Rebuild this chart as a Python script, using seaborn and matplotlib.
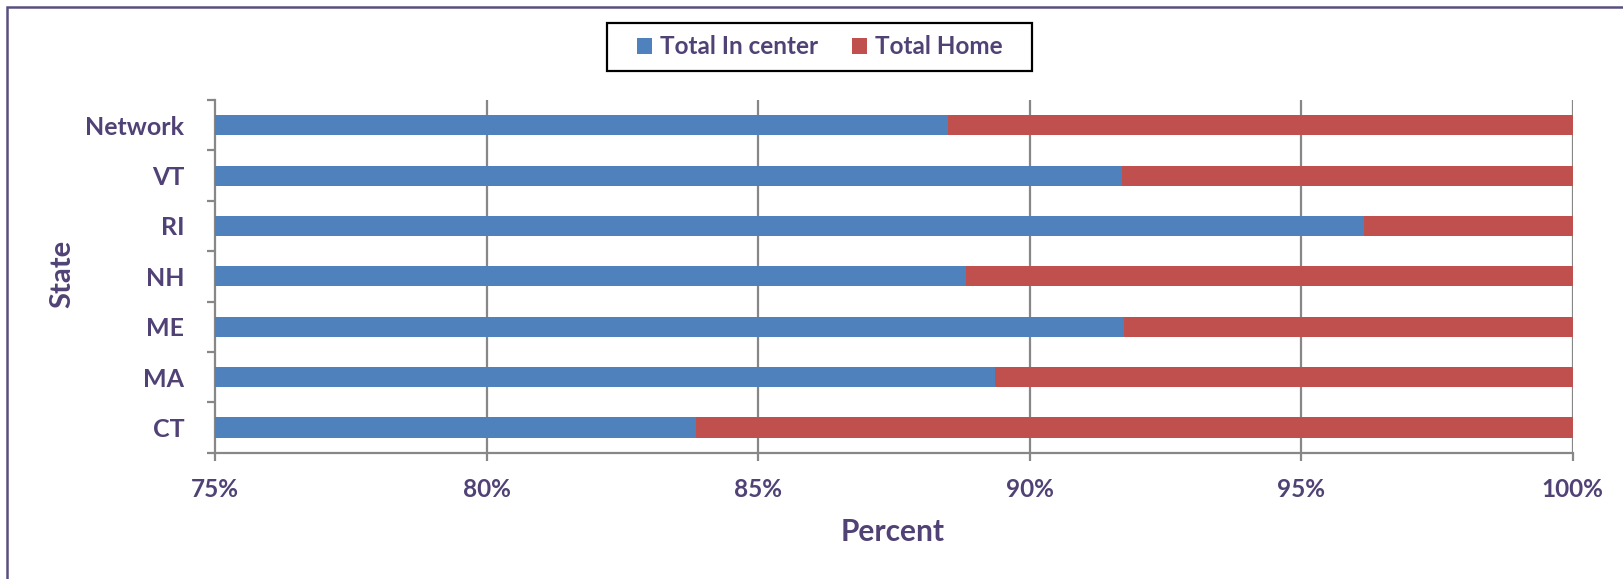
import matplotlib
matplotlib.use("Agg")
import matplotlib.pyplot as plt
import seaborn as sns
import pandas as pd
from matplotlib.patches import Rectangle, Patch
from matplotlib.ticker import FixedLocator

states = ["Network", "VT", "RI", "NH", "ME", "MA", "CT"]
in_center = [88.5, 91.7, 96.15, 88.82, 91.74, 89.37, 83.85]
home = [11.5, 8.3, 3.85, 11.18, 8.26, 10.63, 16.15]
xticks = [75, 80, 85, 90, 95, 100]
xtick_labels = ["75%", "80%", "85%", "90%", "95%", "100%"]

sns.set_theme(style="white")
plt.rcParams["font.family"] = ["Lato", "DejaVu Sans"]
plt.rcParams["font.weight"] = "bold"

TEXT = "#514276"
BLUE = "#4f81bd"
RED = "#c0504d"
GRID = "#878787"

df = pd.DataFrame({"State": states, "InCenter": in_center, "Home": home})
df["Total"] = df["InCenter"] + df["Home"]

fig = plt.figure(figsize=(16.24, 5.79), dpi=100)
ax = fig.add_axes([215 / 1624, 1 - 452.7 / 579, (1572.7 - 215) / 1624, (452.7 - 100) / 579])

sns.barplot(data=df, y="State", x="Total", color=RED, width=0.4, orient="h",
            ax=ax, saturation=1, linewidth=0, zorder=3)
sns.barplot(data=df, y="State", x="InCenter", color=BLUE, width=0.4, orient="h",
            ax=ax, saturation=1, linewidth=0, zorder=4)

ax.set_xlim(75, 100)
ax.set_ylim(len(states) - 0.5, -0.5)
ax.set_xticks(xticks)
ax.set_xticklabels(xtick_labels)
for x in xticks[1:]:
    ax.axvline(x, color=GRID, lw=1.6, zorder=1)

for s in ["top", "right"]:
    ax.spines[s].set_visible(False)
for s in ["left", "bottom"]:
    ax.spines[s].set_color(GRID)
    ax.spines[s].set_linewidth(1.6)

ax.yaxis.set_minor_locator(FixedLocator([i - 0.5 for i in range(len(states) + 1)]))
ax.tick_params(axis="y", which="major", length=0, pad=22, labelsize=18, labelcolor=TEXT)
ax.tick_params(axis="y", which="minor", left=True, length=6, width=1.6, color=GRID)
ax.tick_params(axis="x", which="major", bottom=True, length=6, width=1.6, color=GRID,
               pad=12, labelsize=17.5, labelcolor=TEXT)
for lab in ax.get_xticklabels() + ax.get_yticklabels():
    lab.set_fontweight("bold")

ax.set_xlabel("")
ax.set_ylabel("")
fig.text(893 / 1624, 1 - 532 / 579, "Percent", ha="center", va="center",
         fontsize=21.5, fontweight="bold", color=TEXT)
fig.text(62 / 1624, 1 - 274 / 579, "State", ha="center", va="center", rotation=90,
         fontsize=21, fontweight="bold", color=TEXT)

# legend frame
fig.patches.append(Rectangle((606.7 / 1624, 1 - 70.7 / 579), (1032.3 - 606.7) / 1624,
                             48 / 579, transform=fig.transFigure, fill=False,
                             edgecolor="black", linewidth=1.6))
handles = [Patch(facecolor=BLUE, edgecolor="none"), Patch(facecolor=RED, edgecolor="none")]
leg = fig.legend(handles, ["Total In center", "Total Home"], loc="center",
                 bbox_to_anchor=(819.5 / 1624, 1 - 46.7 / 579), ncol=2, frameon=False,
                 fontsize=17.5, handlelength=0.62, handleheight=0.62,
                 handletextpad=0.33, columnspacing=1.4, borderpad=0.3)
for t in leg.get_texts():
    t.set_color(TEXT)
    t.set_fontweight("bold")

fig.patches.append(Rectangle((7 / 1624, -0.1), 1.2, 1 - 7 / 579 + 0.1,
                             transform=fig.transFigure, fill=False,
                             edgecolor="#5a4e80", linewidth=1.8))

fig.savefig("out.png", dpi=100)
